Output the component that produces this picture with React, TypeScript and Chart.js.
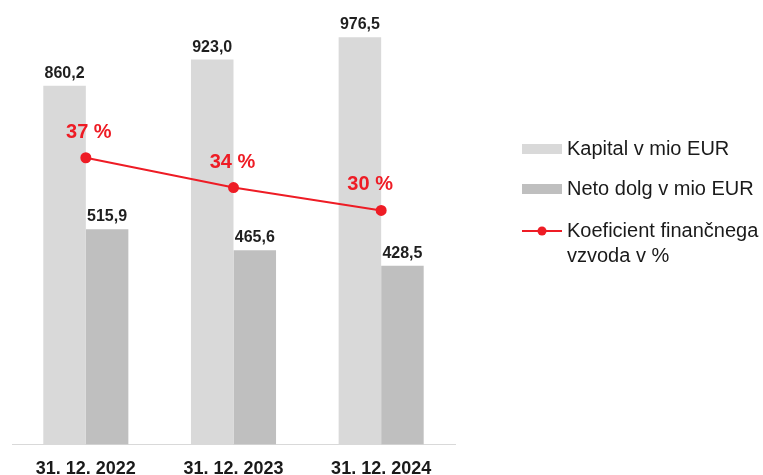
import React, { useEffect, useRef } from "react";
import { Chart, registerables } from "chart.js";

Chart.register(...registerables);

const categories = ["31. 12. 2022", "31. 12. 2023", "31. 12. 2024"];
const kapital = [860.2, 923.0, 976.5];
const netoDolg = [515.9, 465.6, 428.5];
const koeficient = [37.49, 33.53, 30.49];
const legendLabels = ["Kapital v mio EUR", "Neto dolg v mio EUR", ["Koeficient finančnega", "vzvoda v %"]];

const FONT = "'Liberation Sans', Arial, sans-serif";
const RED = "#ee1c25";
const LIGHT = "#d9d9d9";
const DARK = "#bfbfbf";
const PCT_LABEL_DX = [3, -1, -11];

const labelPlugin = {
  id: "valueLabels",
  afterDatasetsDraw(chart: any) {
    const ctx = chart.ctx;
    ctx.save();
    chart.data.datasets.forEach((ds: any, i: number) => {
      const meta = chart.getDatasetMeta(i);
      meta.data.forEach((el: any, j: number) => {
        const v = ds.data[j];
        if (ds.type === "line") {
          ctx.font = `bold 20px ${FONT}`;
          ctx.fillStyle = RED;
          ctx.textAlign = "center";
          ctx.textBaseline = "alphabetic";
          ctx.fillText(Math.round(v) + " %", el.x + PCT_LABEL_DX[j], el.y - 20);
        } else {
          ctx.font = `bold 16px ${FONT}`;
          ctx.fillStyle = "#1f1f1f";
          ctx.textAlign = "center";
          ctx.textBaseline = "alphabetic";
          ctx.fillText(v.toFixed(1).replace(".", ","), el.x, el.y - 8);
        }
      });
    });
    ctx.restore();
  },
};

const legendPlugin = {
  id: "customLegend",
  afterDraw(chart: any) {
    const ctx = chart.ctx;
    ctx.save();
    const bx = 522;
    const bw = 40;
    const tx = 567;
    ctx.font = `20px ${FONT}`;
    ctx.textAlign = "left";
    ctx.textBaseline = "alphabetic";
    ctx.fillStyle = LIGHT;
    ctx.fillRect(bx, 144, bw, 10);
    ctx.fillStyle = "#1a1a1a";
    ctx.fillText(legendLabels[0] as string, tx, 155);
    ctx.fillStyle = DARK;
    ctx.fillRect(bx, 184, bw, 10);
    ctx.fillStyle = "#1a1a1a";
    ctx.fillText(legendLabels[1] as string, tx, 195);
    ctx.strokeStyle = RED;
    ctx.lineWidth = 2;
    ctx.beginPath();
    ctx.moveTo(bx, 231);
    ctx.lineTo(bx + bw, 231);
    ctx.stroke();
    ctx.fillStyle = RED;
    ctx.beginPath();
    ctx.arc(bx + bw / 2, 231, 4.5, 0, Math.PI * 2);
    ctx.fill();
    ctx.fillStyle = "#1a1a1a";
    const l3 = legendLabels[2] as string[];
    ctx.fillText(l3[0], tx, 237);
    ctx.fillText(l3[1], tx, 262);
    ctx.restore();
  },
};

export default function App() {
  const ref = useRef<HTMLCanvasElement>(null);
  useEffect(() => {
    if (!ref.current) return;
    const chart = new Chart(ref.current, {
      type: "bar",
      data: {
        labels: categories,
        datasets: [
          {
            type: "line",
            label: "Koeficient finančnega vzvoda v %",
            data: koeficient,
            yAxisID: "y2",
            borderColor: RED,
            backgroundColor: RED,
            borderWidth: 2,
            pointRadius: 4.5,
            pointBackgroundColor: RED,
            pointBorderColor: RED,
            order: 0,
          } as any,
          {
            type: "bar",
            label: "Kapital v mio EUR",
            data: kapital,
            backgroundColor: LIGHT,
            yAxisID: "y",
            barPercentage: 1,
            categoryPercentage: 0.576,
            order: 1,
          },
          {
            type: "bar",
            label: "Neto dolg v mio EUR",
            data: netoDolg,
            backgroundColor: DARK,
            yAxisID: "y",
            barPercentage: 1,
            categoryPercentage: 0.576,
            order: 1,
          },
        ],
      },
      options: {
        responsive: false,
        animation: false,
        layout: { padding: { left: 12, right: 308, top: 27.5, bottom: 0 } },
        plugins: {
          legend: { display: false },
          tooltip: { enabled: false },
        },
        scales: {
          x: {
            grid: { display: false, drawTicks: false },
            border: { display: true, color: LIGHT, width: 1 },
            ticks: {
              padding: 14,
              color: "#1a1a1a",
              font: { family: FONT, size: 18, weight: "bold" },
            },
          },
          y: { display: false, min: 0, max: 1000 },
          y2: { display: false, min: -0.6, max: 54.8, position: "right" },
        },
      },
      plugins: [labelPlugin, legendPlugin],
    });
    return () => chart.destroy();
  }, []);
  return (
    <div style={{ position: "fixed", left: 0, top: 0, width: 763, height: 475, overflow: "hidden", background: "#fff" }}>
      <canvas ref={ref} width={763} height={494} style={{ width: 763, height: 494, display: "block" }} />
    </div>
  );
}
